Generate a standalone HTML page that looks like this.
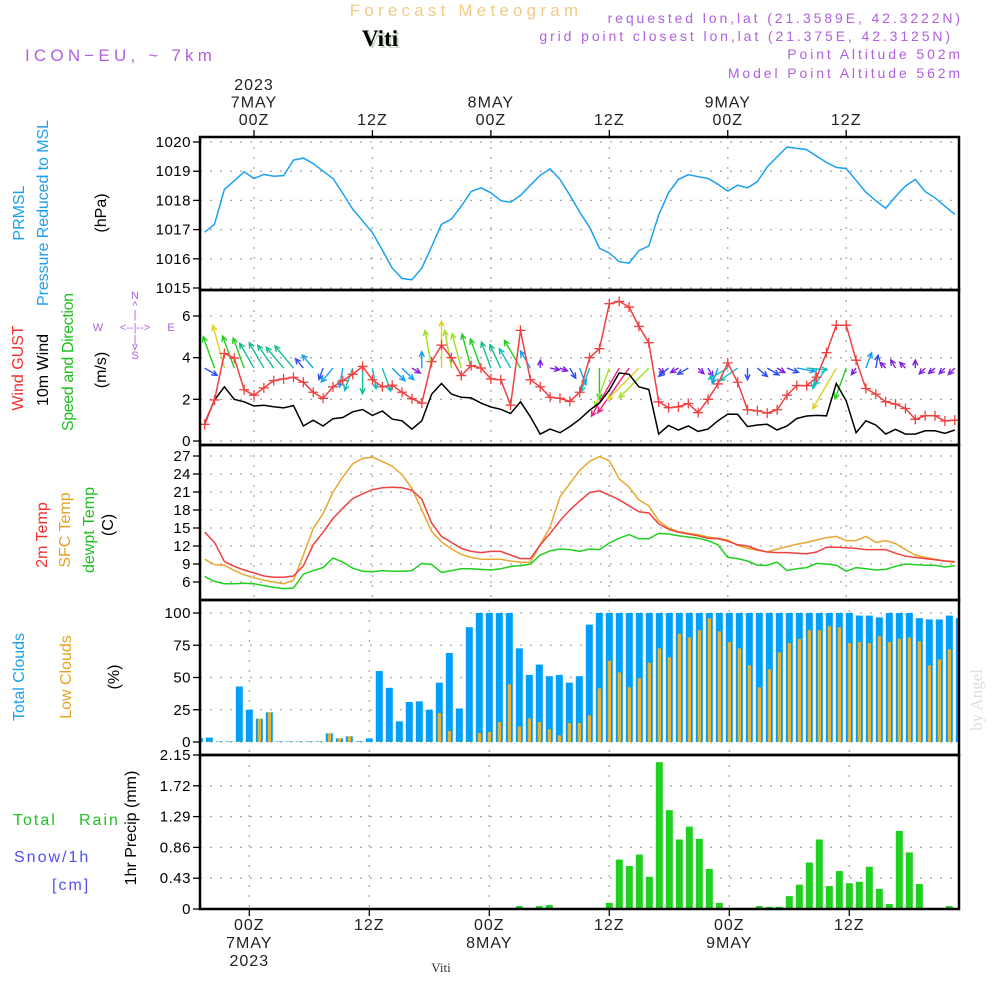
<!DOCTYPE html>
<html><head><meta charset="utf-8"><title>Forecast Meteogram - Viti</title>
<style>
html,body{margin:0;padding:0;background:#fff;}
svg{display:block;font-family:"Liberation Sans",sans-serif;}
</style></head>
<body>
<svg id="chart" width="1000" height="1000" viewBox="0 0 1000 1000" xmlns="http://www.w3.org/2000/svg">
<rect x="0" y="0" width="1000" height="1000" fill="#fff"/>
<text x="466" y="16" font-size="17" fill="#f0cc88" text-anchor="middle" letter-spacing="4.2">Forecast Meteogram</text>
<text x="382" y="48" font-family="Liberation Serif,serif" font-weight="bold" font-size="23" fill="#c8d8c8" text-anchor="middle">Viti</text>
<text x="380" y="46" font-family="Liberation Serif,serif" font-weight="bold" font-size="23" fill="#000" text-anchor="middle">Viti</text>
<text x="25" y="61" font-size="17" fill="#b060e0" letter-spacing="4.2">ICON−EU, ~ 7km</text>
<g font-size="14" fill="#b060e0" text-anchor="end" letter-spacing="2.9">
<text x="963" y="23">requested lon,lat (21.3589E, 42.3222N)</text>
<text x="953" y="41">grid point closest lon,lat (21.375E, 42.3125N)</text>
<text x="963" y="59">Point Altitude 502m</text>
<text x="963" y="78">Model Point Altitude 562m</text>
</g>
<g font-size="16">
<text transform="translate(24,213) rotate(-90)" text-anchor="middle" fill="#1aa0f0">PRMSL</text>
<text transform="translate(48,213) rotate(-90)" text-anchor="middle" fill="#1aa0f0" textLength="186">Pressure Reduced to MSL</text>
<text transform="translate(106,213) rotate(-90)" text-anchor="middle" fill="#000">(hPa)</text>
<text transform="translate(23,368) rotate(-90)" text-anchor="middle" fill="#f03030">Wind GUST</text>
<text transform="translate(48,370) rotate(-90)" text-anchor="middle" fill="#000">10m Wind</text>
<text transform="translate(73,362) rotate(-90)" text-anchor="middle" fill="#20c020" textLength="138">Speed and Direction</text>
<text transform="translate(106,370) rotate(-90)" text-anchor="middle" fill="#000">(m/s)</text>
<text transform="translate(47,535) rotate(-90)" text-anchor="middle" fill="#f03030">2m Temp</text>
<text transform="translate(70,530) rotate(-90)" text-anchor="middle" fill="#e8a020">SFC Temp</text>
<text transform="translate(94,530) rotate(-90)" text-anchor="middle" fill="#20c020">dewpt Temp</text>
<text transform="translate(113,525) rotate(-90)" text-anchor="middle" fill="#000">(C)</text>
<text transform="translate(24,677) rotate(-90)" text-anchor="middle" fill="#1aa0f0">Total Clouds</text>
<text transform="translate(71,677) rotate(-90)" text-anchor="middle" fill="#e8a020">Low Clouds</text>
<text transform="translate(119,677) rotate(-90)" text-anchor="middle" fill="#000">(%)</text>
<text transform="translate(136,828) rotate(-90)" text-anchor="middle" fill="#000">1hr Precip (mm)</text>
<text x="13" y="825" fill="#20c020" letter-spacing="2">Total</text>
<text x="79" y="825" fill="#20c020" letter-spacing="2">Rain</text>
<text x="14" y="862" fill="#5050f0" letter-spacing="2">Snow/1h</text>
<text x="52" y="890" fill="#5050f0" letter-spacing="2">[cm]</text>
</g>
<g font-size="11" fill="#b060e0" text-anchor="middle">
<text x="135" y="299">N</text><text x="135" y="309">^</text><text x="135" y="318">|</text>
<text x="98" y="331">W</text><text x="135" y="331">&lt;--|--&gt;</text><text x="171" y="331">E</text>
<text x="135" y="343">|</text><text x="135" y="350">v</text><text x="135" y="359">S</text>
</g>
<text transform="translate(982,700) rotate(-90)" text-anchor="middle" font-family="Liberation Serif,serif" font-size="17" fill="#d8e2d8">by Angel</text>
<text x="441" y="972" font-family="Liberation Serif,serif" font-size="13" fill="#333" text-anchor="middle">Viti</text>
<g id="plot"></g>
</svg>
<script>
const hours = [];
for (let h = -5; h <= 71; h++) hours.push(h);
const pressure = [1016.91,1017.18,1018.38,1018.67,1018.98,1018.75,1018.89,1018.83,1018.85,1019.38,1019.45,1019.26,1019.0,1018.75,1018.24,1017.7,1017.3,1016.9,1016.3,1015.68,1015.33,1015.28,1015.68,1016.42,1017.18,1017.36,1017.8,1018.3,1018.43,1018.26,1017.99,1017.94,1018.17,1018.52,1018.86,1019.08,1018.72,1018.18,1017.6,1017.08,
1016.36,1016.2,1015.9,1015.85,1016.28,1016.44,1017.5,1018.26,1018.72,1018.88,1018.81,1018.75,1018.55,1018.32,1018.52,1018.43,1018.64,1019.15,1019.49,1019.83,1019.78,1019.74,1019.51,1019.3,1019.13,1019.09,1018.69,1018.28,1017.99,1017.73,1018.13,1018.49,1018.72,1018.3,1018.09,1017.8,1017.52];
const gust = [0.8,1.97,4.2,3.98,2.46,2.2,2.55,2.9,2.98,3.06,2.82,2.34,2.05,2.6,2.9,3.2,3.58,2.94,2.6,2.68,2.34,2.03,1.82,3.81,4.6,4.0,3.14,3.62,3.5,2.98,2.94,1.72,5.31,2.94,2.6,2.1,2.05,1.9,2.34,4.0,
4.43,6.59,6.7,6.43,5.5,4.72,1.88,1.6,1.64,1.8,1.36,2.0,2.74,3.75,2.82,1.5,1.45,1.34,1.5,2.2,2.66,2.66,3.06,4.24,5.56,5.56,3.88,2.52,2.25,1.88,1.77,1.56,1.04,1.21,1.21,0.96,1.0];
const wind10 = [0.85,1.97,2.6,2.0,1.88,1.68,1.72,1.64,1.59,1.7,0.72,1.0,0.72,1.07,1.13,1.4,1.51,1.23,1.44,1.05,0.97,0.57,0.97,2.25,2.76,2.25,2.1,2.07,1.82,1.63,1.52,1.32,1.88,1.16,0.33,0.57,0.4,0.69,1.04,1.48,
1.83,2.44,3.27,3.2,2.6,2.47,0.33,0.75,0.53,0.72,0.46,0.57,0.97,1.29,1.28,0.69,0.77,0.8,0.53,0.72,1.08,1.2,1.23,1.21,2.76,1.93,0.4,0.97,0.77,0.33,0.56,0.33,0.33,0.49,0.49,0.37,0.53];
const windDir = [120,340,345,340,340,330,330,325,320,320,320,320,200,220,190,200,180,170,160,135,135,120,0,350,0,350,345,345,340,340,335,330,330,330,0,100,110,150,160,200,
180,200,210,215,225,225,135,230,240,240,135,150,200,240,235,180,130,120,120,110,100,95,190,215,210,200,215,20,10,315,330,315,0,225,230,225,225];
const temp2m = [14.3,12.6,9.4,8.6,8.0,7.5,7.0,6.8,6.8,7.0,8.7,12.2,14.3,16.6,18.3,19.9,20.7,21.4,21.7,21.8,21.7,21.3,19.8,15.8,13.6,12.6,11.6,11.1,10.9,11.1,11.1,10.5,9.9,9.9,12.2,14.1,16.2,18.0,19.5,20.9,
21.2,20.5,19.7,18.7,17.7,17.5,15.7,14.8,14.3,14.0,13.7,13.3,13.2,12.8,12.2,12.0,11.4,11.0,10.9,10.9,10.8,10.7,11.0,11.8,11.8,11.7,11.6,11.4,11.4,11.4,10.8,10.3,10.1,9.9,9.7,9.5,9.4];
const sfcTemp = [9.8,8.9,8.8,7.9,7.2,6.7,6.3,6.0,5.7,6.3,10.5,14.9,17.4,21.0,23.5,25.7,26.6,26.8,26.1,25.3,23.9,21.6,18.0,14.4,12.7,11.5,10.6,10.1,9.8,9.8,9.8,9.5,9.3,9.3,12.2,15.2,20.2,22.4,24.6,26.1,
26.9,26.2,23.2,21.8,19.7,18.7,16.2,15.0,14.4,14.1,13.9,13.5,13.3,13.0,12.1,11.6,11.3,11.0,11.5,11.9,12.3,12.6,13.0,13.4,13.6,12.9,12.9,13.6,12.6,12.9,12.4,11.4,10.5,10.1,9.8,9.5,9.3];
const dewTemp = [6.9,6.1,5.7,5.7,5.8,5.7,5.4,5.1,4.9,5.0,7.3,7.9,8.4,10.0,9.3,8.3,7.8,7.7,7.9,7.8,7.8,7.9,9.1,8.9,7.6,7.9,8.2,8.2,8.1,8.0,8.2,8.6,8.7,9.0,10.5,11.2,11.5,11.4,11.1,11.5,
11.4,12.5,13.3,13.9,13.2,13.2,14.1,14.0,13.7,13.5,13.3,12.9,12.2,10.1,9.9,9.5,8.8,8.8,9.3,7.9,8.2,8.4,9.1,9.0,8.8,7.8,8.4,8.2,8.0,8.1,8.6,9.0,8.9,8.8,8.8,8.5,8.7];
const totalClouds = [3,3.4,0.5,0.5,43,25,18,23,0.5,0.5,0.5,0.5,0.5,6.7,2.8,4.4,0.5,2.8,55,42,16,31,31.5,25,46,69,26,89,100,100,100,100,72.6,52,60,51,52,46,51,91,
100,100,100,100,100,100,100,100,100,100,100,100,100,100,100,100,100,100,100,100,100,100,100,100,100,100,98,98,96.6,100,100,100,96,95,95,98,96];
const lowClouds = [2.6,0.3,0.3,0.3,0.3,0.3,18,23,0.3,0.3,0.3,0.3,0.3,6.7,2.8,4.4,0,0,0.3,0.3,0.3,0.3,0.3,0.3,22.5,8.5,0.3,0.3,7,7.8,15.5,44.7,12,18.3,15.5,9.8,5.2,14.7,14.7,20.7,
41.6,63,54,42.4,49.4,61.5,72.6,65.6,84,81,86.6,96,85.8,77.5,72.6,59.4,42.4,56.3,69.5,76.7,80,86.6,86.6,89.7,88.9,76.7,77.5,76.7,82,77.5,80,81,78,59.4,64,71.8,75.8];
const precip = [0,0,0,0,0,0,0,0,0,0,0,0,0,0,0,0,0,0,0,0,0,0,0,0,0,0,0,0,0,0,0,0,0.04,0,0.04,0.055,0,0,0,0,
0.015,0.085,0.69,0.60,0.76,0.45,2.05,1.38,0.97,1.15,0.98,0.56,0.085,0,0,0,0.04,0.03,0.03,0.18,0.34,0.65,0.97,0.32,0.53,0.36,0.38,0.59,0.28,0.07,1.09,0.79,0.35,0,0,0.04,0];
const presTicks = [1015,1016,1017,1018,1019,1020];
const windTicks = [0,2,4,6];
const tempTicks = [6,9,12,15,18,21,24,27];
const cloudTicks = [0,25,50,75,100];
const precipTicks = [0,0.43,0.86,1.29,1.72,2.15];
const timeTicks = [0,12,24,36,48,60];
const topTickLabels = [["2023","7MAY","00Z"],["12Z"],["8MAY","00Z"],["12Z"],["9MAY","00Z"],["12Z"]];
const bottomTickLabels = [["00Z","7MAY","2023"],["12Z"],["00Z","8MAY"],["12Z"],["00Z","9MAY"],["12Z"]];

const NS = "http://www.w3.org/2000/svg";
const plot = document.getElementById("plot");
const X0 = 200, X1 = 959;
const xTop = h => 254 + 9.87 * h;
const xBot = h => 249.3 + 10 * h;
function lin(d0, d1, r0, r1) { return v => r0 + (v - d0) * (r1 - r0) / (d1 - d0); }
const yP = lin(1015, 1020, 288, 142);
const yW = lin(0, 6, 441, 316);
const yT = lin(6, 27, 582, 456);
const yC = lin(0, 100, 742, 613);
const yR = lin(0, 2.15, 909, 755);
function mk(tag, attrs, parent) {
  const e = document.createElementNS(NS, tag);
  for (const k in attrs) e.setAttribute(k, attrs[k]);
  (parent || plot).appendChild(e);
  return e;
}
const clip = mk("clipPath", {id: "pc"});
mk("rect", {x: X0, y: 130, width: X1 - X0, height: 790}, clip);

function panel(name, top, bot, ys, ticks, fmt, xfun) {
  const g = mk("g", {});
  
  
  ticks.forEach(t => {
    const y = ys(t);
    const gl = mk("line", {x1: X0, x2: X1, y1: y, y2: y, stroke: "#aaa", "stroke-width": 1.3, "stroke-dasharray": "2,8"}, g);
    
    
    mk("line", {x1: X0 - 7, x2: X0, y1: y, y2: y, stroke: "#000", "stroke-width": 1.3}, g);
    const tx = mk("text", {x: X0 - 9, y: y + 5, "font-size": 15, "text-anchor": "end", fill: "#000", "letter-spacing": 0.5}, g);
    
    
    tx.textContent = fmt(t);
  });
  timeTicks.forEach(h => {
    const x = xfun(h);
    const vl = mk("line", {x1: x, x2: x, y1: top, y2: bot, stroke: "#aaa", "stroke-width": 1.3, "stroke-dasharray": "2,8"}, g);
    
    
  });
  return g;
}
function frame(top, bot) {
  mk("rect", {x: X0, y: top, width: X1 - X0, height: bot - top, fill: "none", stroke: "#000", "stroke-width": 2.5});
}
function line(name, vals, ys, color) {
  const d = vals.map((v, i) => (i ? "L" : "M") + xTop(hours[i]).toFixed(1) + "," + ys(v).toFixed(1)).join("");
  const p = mk("path", {d: d, fill: "none", stroke: color, "stroke-width": 1.5, "clip-path": "url(#pc)"});
  
  
  return p;
}

panel("pressure", 137, 290, yP, presTicks, v => String(v), xTop);
panel("wind", 290, 445, yW, windTicks, v => String(v), xTop);
panel("temperature", 445, 600, yT, tempTicks, v => String(v), xTop);
panel("clouds", 600, 755, yC, cloudTicks, v => String(v), xBot);
panel("precip", 755, 909, yR, precipTicks, v => String(v), xBot);

line("pressure-line", pressure, yP, "#1aa0f0");

function arrowColor(s) {
  if (s < 0.6) return "#8020e0";
  if (s < 0.9) return "#3050f0";
  if (s < 1.2) return "#10a0f0";
  if (s < 1.5) return "#10c0c0";
  if (s < 1.8) return "#10c090";
  if (s < 2.1) return "#20d020";
  if (s < 2.5) return "#a0e020";
  if (s < 2.8) return "#e0d020";
  if (s < 3.1) return "#f08020";
  return "#f02080";
}
const ag = mk("g", {"clip-path": "url(#pc)"});


hours.forEach((h, i) => {
  const s = wind10[i], a = windDir[i] * Math.PI / 180;
  const L = Math.max(8, s * 17);
  const bx = xTop(h), by = yW(3.5);
  const ex = bx + Math.sin(a) * L, ey = by - Math.cos(a) * L;
  const c = arrowColor(s);
  const hl = 6, ha = 0.45;
  const h1x = ex - Math.sin(a - ha) * hl, h1y = ey + Math.cos(a - ha) * hl;
  const h2x = ex - Math.sin(a + ha) * hl, h2y = ey + Math.cos(a + ha) * hl;
  const p = mk("path", {d: `M${bx},${by}L${ex},${ey}M${h1x},${h1y}L${ex},${ey}L${h2x},${h2y}`, stroke: c, "stroke-width": 1.4, fill: "none"}, ag);
  
  
});

line("wind-10m-line", wind10, yW, "#000");
line("wind-gust-line", gust, yW, "#f04040");
const gm = mk("g", {"clip-path": "url(#pc)"});


hours.forEach((h, i) => {
  const x = xTop(h), y = yW(gust[i]);
  const m = mk("path", {d: `M${x - 5},${y}L${x + 5},${y}M${x},${y - 5}L${x},${y + 5}`, stroke: "#f04040", "stroke-width": 1.3}, gm);
  
  
});

line("sfc-temp-line", sfcTemp, yT, "#e8a830");
line("temp-2m-line", temp2m, yT, "#f04040");
line("dewpoint-line", dewTemp, yT, "#20d020");

const cg = mk("g", {"clip-path": "url(#pc)"});


hours.forEach((h, i) => {
  const x = xBot(h);
  const b = mk("rect", {x: x - 3.5, y: yC(totalClouds[i]), width: 7, height: yC(0) - yC(totalClouds[i]), fill: "#00a0f8"}, cg);
  
  
  const o = mk("rect", {x: x - 1.5, y: yC(lowClouds[i]), width: 3.2, height: yC(0) - yC(lowClouds[i]), fill: "#e8b030"}, cg);
  
  
});

const rg = mk("g", {"clip-path": "url(#pc)"});


hours.forEach((h, i) => {
  if (precip[i] <= 0) return;
  const x = xBot(h);
  const b = mk("rect", {x: x - 3.5, y: yR(precip[i]), width: 7, height: yR(0) - yR(precip[i]), fill: "#20d020"}, rg);
  
  
});

frame(137, 290); frame(290, 445); frame(445, 600); frame(600, 755); frame(755, 909);

timeTicks.forEach((h, k) => {
  const x = xTop(h);
  mk("line", {x1: x, x2: x, y1: 130, y2: 137, stroke: "#000", "stroke-width": 1.3});
  const lines = topTickLabels[k];
  lines.forEach((s, j) => {
    const t = mk("text", {x: x, y: 127 - (lines.length - 1 - j) * 17.5 - 2, "font-size": 16, "text-anchor": "middle", fill: "#222", "letter-spacing": 1});
    
    
    t.textContent = s;
  });
  const xb = xBot(h);
  mk("line", {x1: xb, x2: xb, y1: 909, y2: 916, stroke: "#000", "stroke-width": 1.3});
  bottomTickLabels[k].forEach((s, j) => {
    const t = mk("text", {x: xb, y: 930 + j * 18, "font-size": 16, "text-anchor": "middle", fill: "#222", "letter-spacing": 1});
    
    
    t.textContent = s;
  });
});
</script>
</body></html>
